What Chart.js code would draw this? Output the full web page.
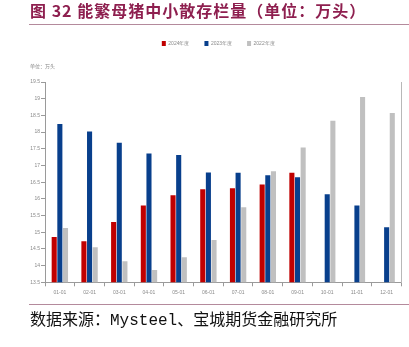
<!DOCTYPE html>
<html>
<head>
<meta charset="utf-8">
<script src="https://cdn.jsdelivr.net/npm/chart.js@4.4.1/dist/chart.umd.min.js"></script>
<style>
    body { margin: 0; width: 409px; height: 347px; background: #fff; position: relative; overflow: hidden; }
    #chart { position: absolute; left: 0; top: 0; }
    .title { position: absolute; left: 30px; top: 0; font: bold 16px "Noto Sans CJK SC", sans-serif; letter-spacing: 1px; color: #8e1f4f; line-height: 20px; white-space: nowrap; }
    .rule { position: absolute; left: 29px; right: 0; height: 0; border-top: 1.5px solid #b48a9c; }
    .source { position: absolute; left: 30px; top: 311px; font: 16px "Liberation Mono", "Noto Sans CJK SC", monospace; color: #111; line-height: 20px; white-space: nowrap; }
</style>
</head>
<body>
<canvas id="chart" width="409" height="347"></canvas>
<div class="title">图 32 能繁母猪中小散存栏量（单位：万头）</div>
<div class="rule" style="top:24px"></div>
<div class="rule" style="top:304px"></div>
<div class="source">数据来源：Mysteel、宝城期货金融研究所</div>
<script>
const months = ['01-01', '02-01', '03-01', '04-01', '05-01', '06-01', '07-01', '08-01', '09-01', '10-01', '11-01', '12-01'];
const sow2024 = [14.86, 14.73, 15.31, 15.80, 16.11, 16.29, 16.32, 16.43, 16.78, null, null, null];
const sow2023 = [18.24, 18.02, 17.68, 17.36, 17.31, 16.79, 16.78, 16.71, 16.65, 16.14, 15.80, 15.15];
const sow2022 = [15.13, 14.55, 14.13, 13.87, 14.25, 14.77, 15.75, 16.83, 17.54, 18.34, 19.05, 18.57];
const seriesNames = ['2024年度', '2023年度', '2022年度'];
const unitText = '单位：万头';

const RED = '#c00000';
const BLUE = '#083f8c';
const GREY = '#c0c0c0';
const AXIS = '#9a9a9a';
const TEXT = '#8a8a8a';
const tinyFont = { family: 'Liberation Sans, sans-serif', size: 5 };

// legend gets extra room below it so the plot starts lower,
// and sits a little left of the plot centre
const legendGap = {
    id: 'legendGap',
    beforeInit(chart) {
        const fit = chart.legend.fit;
        chart.legend.fit = function () {
            fit.call(this);
            this.height += 26;
        };
    },
    afterLayout(chart) {
        chart.legend.left -= 5;
        chart.legend.right -= 5;
    }
};

const unitLabel = {
    id: 'unitLabel',
    afterDraw(chart) {
        const ctx = chart.ctx;
        ctx.save();
        ctx.font = '5px "Noto Sans CJK SC", sans-serif';
        ctx.fillStyle = TEXT;
        ctx.textBaseline = 'middle';
        ctx.fillText(unitText, 30, chart.chartArea.top - 16);
        ctx.restore();
    }
};

function makeDataset(label, data, color) {
    return {
        label: label,
        data: data,
        backgroundColor: color,
        borderWidth: 0,
        categoryPercentage: 0.57,
        barPercentage: 0.9,
        yAxisID: 'y'
    };
}

new Chart(document.getElementById('chart'), {
    type: 'bar',
    data: {
        labels: months,
        datasets: [
            makeDataset(seriesNames[0], sow2024, RED),
            makeDataset(seriesNames[1], sow2023, BLUE),
            makeDataset(seriesNames[2], sow2022, GREY)
        ]
    },
    plugins: [legendGap, unitLabel],
    options: {
        responsive: false,
        animation: false,
        devicePixelRatio: 1,
        layout: { padding: { left: 0, right: 7.5, top: 26, bottom: 46.7 } },
        plugins: {
            legend: {
                position: 'top',
                fullSize: false,
                labels: {
                    boxWidth: 4,
                    boxHeight: 5,
                    padding: 15,
                    color: TEXT,
                    font: tinyFont
                }
            },
            tooltip: { enabled: false }
        },
        scales: {
            x: {
                grid: { display: true, drawOnChartArea: false, tickLength: 4, color: AXIS, offset: true },
                border: { color: AXIS },
                ticks: { color: TEXT, font: tinyFont, padding: 3, maxRotation: 0, autoSkip: false },
                afterFit(scale) { scale.height = 18; }
            },
            y: {
                min: 13.5,
                max: 19.5,
                ticks: { stepSize: 0.5, color: TEXT, font: tinyFont, padding: 1, callback: v => String(v) },
                grid: { display: true, drawOnChartArea: false, tickLength: 4, color: AXIS },
                border: { color: AXIS },
                afterFit(scale) { scale.width = 45; }
            },
            yRight: {
                position: 'right',
                min: 13.5,
                max: 19.5,
                ticks: { display: false },
                grid: { display: false },
                border: { color: '#b8b8b8' },
                afterFit(scale) { scale.width = 0; }
            }
        }
    }
});
</script>
</body>
</html>
